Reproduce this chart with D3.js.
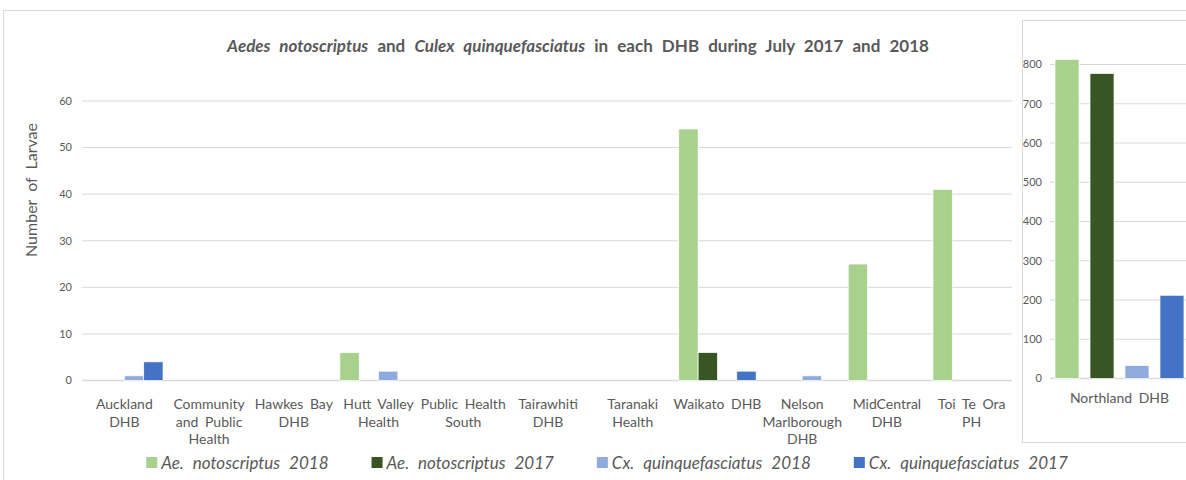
<!DOCTYPE html>
<html>
<head>
<meta charset="utf-8">
<script src="https://cdn.jsdelivr.net/npm/d3@7"></script>
<style>
  body { margin: 0; background: #fff; }
  svg { font-family: Lato, "Noto Sans", sans-serif; }
</style>
</head>
<body>
<svg id="chart" width="1186" height="480"></svg>
<script>
// categories (main panel) and the separate Northland panel
const categories = ["Auckland\nDHB", "Community\nand Public\nHealth", "Hawkes Bay\nDHB", "Hutt Valley\nHealth",
  "Public Health\nSouth", "Tairawhiti\nDHB", "Taranaki\nHealth", "Waikato DHB",
  "Nelson\nMarlborough\nDHB", "MidCentral\nDHB", "Toi Te Ora\nPH"];
const insetCategories = ["Northland DHB"];

const seriesNames = ["Ae. notoscriptus 2018", "Ae. notoscriptus 2017", "Cx. quinquefasciatus 2018", "Cx. quinquefasciatus 2017"];
const seriesColors = ["#A9D18E", "#375623", "#8FAADC", "#4472C4"];

// values per series, main panel
const aeNoto2018 = [0, 0, 0, 6, 0, 0, 0, 54, 0, 25, 41];
const aeNoto2017 = [0, 0, 0, 0, 0, 0, 0, 6, 0, 0, 0];
const cxQuin2018 = [1, 0, 0, 2, 0, 0, 0, 0, 1, 0, 0];
const cxQuin2017 = [4, 0, 0, 0, 0, 0, 0, 2, 0, 0, 0];
// Northland DHB, one value per series
const northland = [813, 777, 33, 212];

const mainTicks = [0, 10, 20, 30, 40, 50, 60];
const insetTicks = [0, 100, 200, 300, 400, 500, 600, 700, 800];

const textColor = "#595959";
const gridColor = "#d9d9d9";

const svg = d3.select("#chart");

// panel frame
svg.append("rect")
  .attr("x", 3.5).attr("y", 10.5)
  .attr("width", 1200).attr("height", 490)
  .attr("fill", "#fff").attr("stroke", gridColor);

const mainSeries = [aeNoto2018, aeNoto2017, cxQuin2018, cxQuin2017];

// ---- main panel ----
const x0 = d3.scaleBand().domain(categories).range([82, 1014]).paddingInner(0.087).paddingOuter(0.0435);
const x1 = d3.scaleBand().domain(seriesNames).range([0, x0.bandwidth()]).padding(0);
const y = d3.scaleLinear().domain([0, 60]).range([380.5, 101]);

svg.append("g")
  .selectAll("line")
  .data(mainTicks)
  .join("line")
  .attr("x1", 82).attr("x2", 1012)
  .attr("y1", d => y(d)).attr("y2", d => y(d))
  .attr("stroke", gridColor).attr("stroke-width", d => d === 0 ? 1.5 : 1);

svg.append("g")
  .selectAll("text")
  .data(mainTicks)
  .join("text")
  .attr("x", 72).attr("y", d => y(d)).attr("dy", "0.35em")
  .attr("text-anchor", "end")
  .attr("fill", textColor).attr("font-size", 11)
  .text(d => d);

const groups = svg.append("g")
  .selectAll("g")
  .data(categories)
  .join("g")
  .attr("transform", d => `translate(${x0(d)},0)`);

groups.selectAll("rect")
  .data((c, i) => seriesNames.map((s, k) => ({ series: s, value: mainSeries[k][i], color: seriesColors[k] })))
  .join("rect")
  .attr("x", d => x1(d.series))
  .attr("width", x1.bandwidth())
  .attr("y", d => y(d.value))
  .attr("height", d => y(0) - y(d.value))
  .attr("fill", d => d.color)
  .attr("stroke", d => d.value > 0 ? "#fff" : "none")
  .attr("stroke-width", 0.7);

// category labels
const catLabels = svg.append("g")
  .selectAll("text")
  .data(categories)
  .join("text")
  .attr("x", d => x0(d) + x0.bandwidth() / 2)
  .attr("y", 409)
  .attr("text-anchor", "middle")
  .attr("fill", textColor).attr("font-size", 14)
  .attr("word-spacing", 3);

catLabels.selectAll("tspan")
  .data(d => d.split("\n"))
  .join("tspan")
  .attr("x", function () { return this.parentNode.getAttribute("x"); })
  .attr("dy", (d, i) => i === 0 ? 0 : 17.5)
  .text(d => d);

// axis title
svg.append("text")
  .attr("transform", "translate(37,190) rotate(-90)")
  .attr("text-anchor", "middle")
  .attr("fill", textColor).attr("font-size", 16)
  .attr("word-spacing", 4)
  .text("Number of Larvae");

// chart title
const title = svg.append("text")
  .attr("x", 578).attr("y", 52)
  .attr("text-anchor", "middle")
  .attr("fill", textColor).attr("font-size", 17).attr("font-weight", "bold")
  .attr("word-spacing", 5);
[["Aedes notoscriptus", true], [" and ", false], ["Culex quinquefasciatus", true], [" in each DHB during July 2017 and 2018", false]]
  .forEach(([t, it]) => title.append("tspan").attr("font-style", it ? "italic" : "normal").text(t));

// ---- Northland inset panel ----
svg.append("rect")
  .attr("x", 1022.5).attr("y", 20.5)
  .attr("width", 200).attr("height", 422)
  .attr("fill", "#fff").attr("stroke", gridColor);

const ix0 = d3.scaleBand().domain(insetCategories).range([1050, 1189]).paddingOuter(0.039);
const ix1 = d3.scaleBand().domain(seriesNames).range([0, ix0.bandwidth()]).paddingInner(0.314);
const iy = d3.scaleLinear().domain([0, 800]).range([378.5, 64.5]);

svg.append("g")
  .selectAll("line")
  .data(insetTicks)
  .join("line")
  .attr("x1", 1050).attr("x2", 1186)
  .attr("y1", d => iy(d)).attr("y2", d => iy(d))
  .attr("stroke", gridColor).attr("stroke-width", d => d === 0 ? 1.5 : 1);

svg.append("g")
  .selectAll("text")
  .data(insetTicks)
  .join("text")
  .attr("x", 1042).attr("y", d => iy(d)).attr("dy", "0.35em")
  .attr("text-anchor", "end")
  .attr("fill", textColor).attr("font-size", 11)
  .text(d => d);

svg.append("g")
  .selectAll("rect")
  .data(seriesNames.map((s, k) => ({ series: s, value: northland[k], color: seriesColors[k] })))
  .join("rect")
  .attr("x", d => ix0(insetCategories[0]) + ix1(d.series))
  .attr("width", ix1.bandwidth())
  .attr("y", d => iy(d.value))
  .attr("height", d => iy(0) - iy(d.value))
  .attr("fill", d => d.color)
  .attr("stroke", "#fff").attr("stroke-width", 0.7);

svg.append("text")
  .attr("x", ix0(insetCategories[0]) + ix0.bandwidth() / 2)
  .attr("y", 403)
  .attr("text-anchor", "middle")
  .attr("fill", textColor).attr("font-size", 14)
  .attr("word-spacing", 3)
  .text(insetCategories[0]);

// ---- legend ----
const legend = svg.append("g");
let lx = 0;
seriesNames.forEach((s, k) => {
  const item = legend.append("g").attr("transform", `translate(${lx},0)`);
  item.append("rect").attr("x", 0).attr("y", -6).attr("width", 11).attr("height", 11).attr("fill", seriesColors[k]);
  const t = item.append("text")
    .attr("x", 15).attr("y", 0).attr("dy", "0.35em")
    .attr("fill", textColor).attr("font-size", 17).attr("font-style", "italic")
    .attr("word-spacing", 5)
    .text(s);
  lx += 15 + t.node().getComputedTextLength() + 43;
});
const legendWidth = lx - 43;
legend.attr("transform", `translate(${607 - legendWidth / 2},463)`);
</script>
</body>
</html>
